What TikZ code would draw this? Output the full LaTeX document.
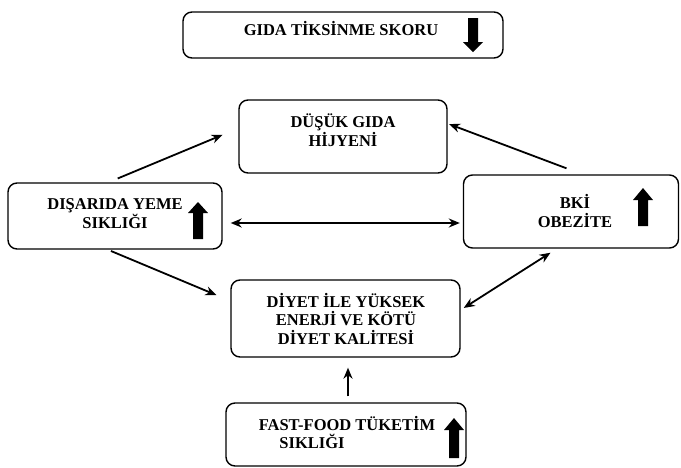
\documentclass[tikz,border=0pt]{standalone}
\usepackage{fontspec}
\setmainfont{Liberation Serif}
\usepackage{tikz}
\usetikzlibrary{arrows.meta}
\tikzstyle{box}=[draw,rounded corners=9pt,line width=1.4pt,inner sep=0pt]
\tikzstyle{txt}=[font=\bfseries\fontsize{16.5}{18.5}\selectfont,align=center,inner sep=0pt,anchor=base]
\tikzstyle{link}=[line width=1.8pt,-{Stealth[length=11pt,width=9pt]}]
\tikzstyle{both}=[line width=1.8pt,{Stealth[length=11pt,width=9pt]}-{Stealth[length=11pt,width=9pt]}]
\newcommand{\blockarrow}[4]{\fill (#1-5,#2) -- (#1-5,#3) -- (#1-10,#3) -- (#1,#4) -- (#1+10,#3) -- (#1+5,#3) -- (#1+5,#2) -- cycle;}
\tikzset{every picture/.style={
    x=1pt,y=-1pt
  }
}
\begin{document}
\begin{tikzpicture}
            \useasboundingbox[fill=white] (0,0) rectangle (681,467);
            \node[box,minimum width=320,minimum height=46] (skor) at (343,35) {};
            \node[box,minimum width=208,minimum height=73] (hijyen) at (343,136.5) {};
            \node[box,minimum width=214,minimum height=66] (disarida) at (115,216) {};
            \node[box,minimum width=215,minimum height=73] (bki) at (571,211.5) {};
            \node[box,minimum width=229,minimum height=77] (diyet) at (345.5,318.5) {};
            \node[box,minimum width=240,minimum height=63] (fastfood) at (346,434.5) {};
            \node[txt] (skortxt) at (341,35) {GIDA TİKSİNME SKORU};
            \node[txt] (hijyentxt) at (343,146) {DÜŞÜK GIDA\\HİJYENİ};
            \node[txt] (disaridatxt) at (115,228) {DIŞARIDA YEME\\SIKLIĞI};
            \node[txt] (bkitxt) at (575,227) {BKİ\\OBEZİTE};
            \node[txt] (diyettxt) at (346,344) {DİYET İLE YÜKSEK\\ENERJİ VE KÖTÜ\\DİYET KALİTESİ};
            \node[txt] (fastfoodtxt) at (347,430) {FAST-FOOD TÜKETİM};
            \node[txt] (siklik) at (312,448) {SIKLIĞI};
            \blockarrow{473}{18}{42}{52}
            \blockarrow{198}{239}{213}{202}
            \blockarrow{643}{226}{200}{188}
            \blockarrow{454}{458}{430}{418}
            \draw[link,shorten <=10pt,shorten >=17pt] ([xshift=-6.5pt]disarida.north) -- ([yshift=8.2pt]hijyen.west);
            \draw[link,shorten <=17pt,shorten >=1.5pt] ([xshift=11.4pt]bki.north) -- ([yshift=12.9pt]hijyen.east);
            \draw[both,shorten <=8pt,shorten >=3pt] ([yshift=-7pt]disarida.east) -- ([yshift=-7pt]disarida.east -| bki.west);
            \draw[link,shorten <=3.3pt,shorten >=15pt] ([xshift=-7.1pt]disarida.south) -- ([yshift=17.6pt]diyet.west);
            \draw[both,shorten <=3.6pt,shorten >=7.5pt] ([yshift=8.6pt]diyet.east) -- ([xshift=-14.2pt]bki.south);
            \draw[link,shorten <=6pt,shorten >=10pt] ([xshift=2pt]fastfood.north) -- ([xshift=2.5pt]diyet.south);
          \end{tikzpicture}
\end{document}
